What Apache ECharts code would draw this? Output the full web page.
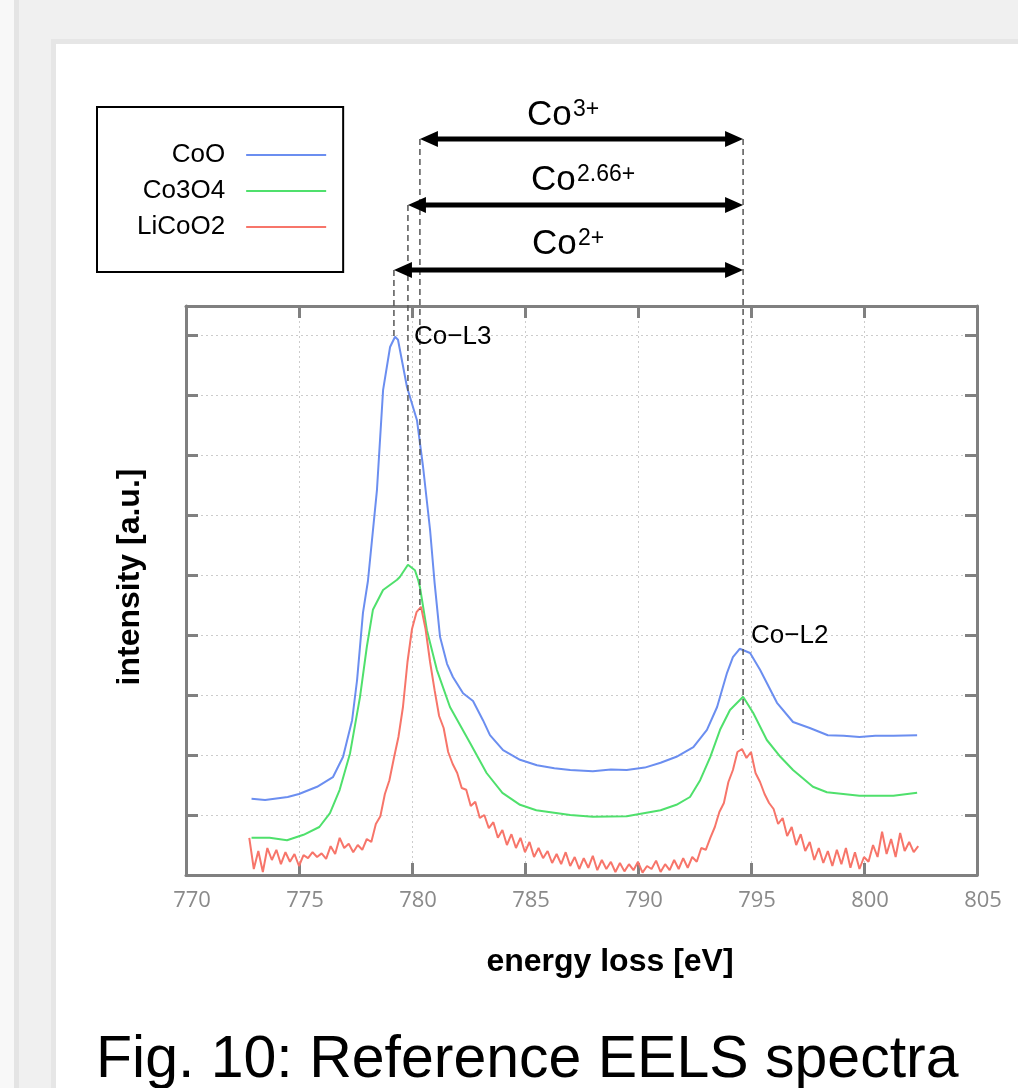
<!DOCTYPE html>
<html><head><meta charset="utf-8">
<script src="https://cdn.jsdelivr.net/npm/echarts@6/dist/echarts.min.js"></script>
<style>html,body{margin:0;padding:0;background:#f0f0f0;}#c{width:1018px;height:1088px;}</style>
</head><body><div id="c"></div>
<script>
// ---- data ----
const xTicks = [770, 775, 780, 785, 790, 795, 800, 805];
const seriesNames = ['CoO', 'Co3O4', 'LiCoO2'];

const coO_E = [772.9,773.5,774.5,775.0,775.8,776.5,776.95,777.35,777.57,777.83,778.05,778.45,778.72,779.03,779.25,779.38,779.78,780.22,780.49,780.8,781.0,781.24,781.55,781.81,782.26,782.7,783.14,783.45,784.03,784.78,785.53,786.3,787.0,788.0,788.8,789.5,790.3,791.0,791.7,792.45,793.05,793.5,793.94,794.2,794.5,794.96,795.4,796.15,796.86,797.6,798.4,799.1,799.8,800.5,801.3,802.35];
const coO_I = [1.27,1.25,1.30,1.35,1.47,1.63,1.97,2.58,3.25,4.37,4.90,6.42,8.08,8.80,8.97,8.92,8.13,7.58,6.80,5.75,4.87,3.97,3.52,3.30,3.03,2.90,2.58,2.33,2.08,1.92,1.83,1.78,1.75,1.73,1.76,1.75,1.79,1.87,1.97,2.13,2.42,2.80,3.37,3.63,3.77,3.70,3.42,2.87,2.55,2.45,2.33,2.32,2.30,2.32,2.32,2.33];

const co3o4_E = [772.9,773.7,774.47,775.2,775.9,776.37,776.8,777.26,777.7,778.0,778.27,778.72,779.34,779.47,779.82,780.13,780.27,780.35,780.66,781.1,781.68,782.57,783.3,784.0,784.78,785.5,787.0,788.0,789.5,791.0,791.7,792.3,792.75,793.2,793.63,794.07,794.65,795.1,795.7,796.3,796.86,797.74,798.36,799.8,801.3,802.35];
const co3o4_I = [0.62,0.62,0.58,0.67,0.80,1.03,1.42,2.03,2.97,3.80,4.42,4.75,4.92,4.97,5.17,5.08,4.92,4.80,4.08,3.42,2.80,2.20,1.70,1.37,1.17,1.08,1.00,0.97,0.98,1.08,1.17,1.30,1.58,1.97,2.42,2.75,2.97,2.70,2.25,1.97,1.75,1.47,1.38,1.32,1.32,1.37];

const licoo2_E = [772.8,773.0,773.2,773.4,773.6,773.8,774.0,774.2,774.4,774.6,
774.8,775.0,775.2,775.4,775.6,775.8,776.0,776.2,776.4,776.6,
776.8,777.0,777.2,777.4,777.6,777.8,778.0,778.2,778.4,778.6,
778.8,779.0,779.2,779.4,779.6,779.8,780.0,780.2,780.4,780.6,
780.8,781.0,781.2,781.4,781.6,781.8,782.0,782.2,782.4,782.6,
782.8,783.0,783.2,783.4,783.6,783.8,784.0,784.2,784.4,784.6,
784.8,785.0,785.2,785.4,785.6,785.8,786.0,786.2,786.4,786.6,
786.8,787.0,787.2,787.4,787.6,787.8,788.0,788.2,788.4,788.6,
788.8,789.0,789.2,789.4,789.6,789.8,790.0,790.2,790.4,790.6,
790.8,791.0,791.2,791.4,791.6,791.8,792.0,792.2,792.4,792.6,
792.8,793.0,793.2,793.4,793.6,793.8,794.0,794.2,794.4,794.6,
794.8,795.0,795.2,795.4,795.6,795.8,796.0,796.2,796.4,796.6,
796.8,797.0,797.2,797.4,797.6,797.8,798.0,798.2,798.4,798.6,
798.8,799.0,799.2,799.4,799.6,799.8,800.0,800.2,800.4,800.6,
800.8,801.0,801.2,801.4,801.6,801.8,802.0,802.2,802.4];
const licoo2_I = [0.62,0.10,0.40,0.05,0.45,0.25,0.42,0.18,0.38,0.22,
0.35,0.15,0.33,0.28,0.38,0.30,0.36,0.27,0.48,0.35,
0.62,0.45,0.52,0.38,0.50,0.42,0.60,0.55,0.85,0.98,
1.35,1.58,1.95,2.30,2.80,3.55,4.10,4.38,4.47,4.10,
3.55,3.08,2.65,2.45,2.05,1.85,1.70,1.45,1.42,1.15,
1.22,0.95,1.00,0.78,0.88,0.62,0.75,0.50,0.68,0.45,
0.62,0.38,0.55,0.30,0.45,0.28,0.40,0.20,0.35,0.18,
0.38,0.15,0.30,0.10,0.28,0.12,0.32,0.08,0.25,0.10,
0.22,0.05,0.20,0.06,0.18,0.08,0.22,0.04,0.15,0.10,
0.24,0.05,0.18,0.08,0.25,0.10,0.28,0.12,0.30,0.22,
0.45,0.42,0.62,0.80,1.05,1.20,1.55,1.75,2.05,2.10,
1.95,2.05,1.70,1.55,1.35,1.20,1.10,0.85,0.95,0.65,
0.80,0.50,0.68,0.40,0.55,0.25,0.45,0.20,0.40,0.15,
0.42,0.18,0.45,0.12,0.38,0.10,0.30,0.22,0.50,0.30,
0.72,0.35,0.60,0.30,0.70,0.40,0.55,0.38,0.48];

// edge annotations: L3 onset positions (Co3+, Co2.66+, Co2+), L2 position, and peak heights reached by dashed guides
const edgeLabels = ['3+', '2.66+', '2+'];
const l3Energy = [780.35, 779.82, 779.2];
const l3PeakI = [4.42, 5.17, 8.97];
const l2Energy = 794.65;
const l2GuideI = 2.25;
const yMax = 9.4833;

// ---- chart ----
const colors = ['#6b8ef0', '#4fe06c', '#f7756a'];
const pairs = (xs, ys) => xs.map((x, i) => [x, ys[i]]);
const FONT = '"Liberation Sans", Arial, sans-serif';

const gridLine = {color: '#808080', width: 3};
const baseX = {type: 'value', min: xTicks[0], max: xTicks[xTicks.length - 1], interval: xTicks[1] - xTicks[0]};
const baseY = {type: 'value', min: 0, max: yMax, interval: 1};

const option = {
  animation: false,
  backgroundColor: '#f0f0f0',
  grid: {left: 186, right: 41, top: 306, bottom: 213, containLabel: false},
  xAxis: [
    Object.assign({}, baseX, {
      position: 'bottom',
      axisLine: {onZero: false, lineStyle: gridLine},
      axisTick: {inside: true, length: 12, lineStyle: gridLine},
      axisLabel: {fontFamily: '"Open Sans", sans-serif', fontSize: 22, color: '#8a8a8a', margin: 15, padding: [0, 0, 0, 12]},
      splitLine: {show: true, lineStyle: {color: '#cccccc', width: 1, type: [2, 3]}}
    }),
    Object.assign({}, baseX, {
      position: 'top',
      axisLine: {onZero: false, lineStyle: gridLine},
      axisTick: {inside: true, length: 12, lineStyle: gridLine},
      axisLabel: {show: false},
      splitLine: {show: false}
    })
  ],
  yAxis: [
    Object.assign({}, baseY, {
      position: 'left',
      axisLine: {onZero: false, lineStyle: gridLine},
      axisTick: {inside: true, length: 12, lineStyle: gridLine},
      axisLabel: {show: false},
      splitLine: {show: true, lineStyle: {color: '#cccccc', width: 1, type: [2, 3]}}
    }),
    Object.assign({}, baseY, {
      position: 'right',
      axisLine: {onZero: false, lineStyle: gridLine},
      axisTick: {inside: true, length: 12, lineStyle: gridLine},
      axisLabel: {show: false},
      splitLine: {show: false}
    })
  ],
  legend: {
    data: seriesNames,
    orient: 'vertical', left: 97, top: 107, align: 'right',
    icon: 'rect', itemWidth: 80, itemHeight: 2, itemGap: 10,
    padding: [35, 17, 32, 40],
    borderColor: '#000', borderWidth: 2, backgroundColor: '#fff',
    selectedMode: false,
    textStyle: {fontFamily: FONT, fontSize: 26, color: '#000', lineHeight: 26, padding: [0, 16, 0, 0]}
  },
  series: [
    {name: seriesNames[0], type: 'line', data: pairs(coO_E, coO_I), color: colors[0]},
    {name: seriesNames[1], type: 'line', data: pairs(co3o4_E, co3o4_I), color: colors[1]},
    {name: seriesNames[2], type: 'line', data: pairs(licoo2_E, licoo2_I), color: colors[2]}
  ].map(s => Object.assign(s, {showSymbol: false, symbol: 'none', lineStyle: {width: 2, color: s.color}, z: 3, silent: true}))
};

const chart = echarts.init(document.getElementById('c'), null, {renderer: 'canvas'});
chart.setOption(option);

const px = (e, v) => chart.convertToPixel({xAxisIndex: 0, yAxisIndex: 0}, [e, v]);
const g = [];
// page framing
g.push({type: 'rect', z: -10, shape: {x: 0, y: 0, width: 14, height: 1088}, style: {fill: '#f8f8f8'}});
g.push({type: 'rect', z: -10, shape: {x: 14, y: 0, width: 5, height: 1088}, style: {fill: '#e4e4e4'}});
g.push({type: 'rect', z: -9, shape: {x: 53.5, y: 41.5, width: 1000, height: 1100}, style: {fill: '#ffffff', stroke: '#e6e6e6', lineWidth: 5}});

const txt = (text, x, y, size, opts) => Object.assign({
  type: 'text', z: 50, x: x, y: y,
  style: Object.assign({text: text, font: (opts && opts.bold ? 'bold ' : '') + size + 'px ' + FONT, fill: '#000',
    align: 'left', textAlign: 'left', verticalAlign: 'middle', textVerticalAlign: 'middle'}, (opts && opts.style) || {})
}, (opts && opts.el) || {});

// arrows + dashed guides
const arrowRows = [139, 205, 270];
const labelRows = [115, 180, 244];
const labelX = [527, 531, 532];
const rPx = px(l2Energy, 0)[0];
arrowRows.forEach((ay, i) => {
  const lx = px(l3Energy[i], 0)[0];
  const peakY = px(l3Energy[i], l3PeakI[i])[1];
  g.push({type: 'line', z: 40, shape: {x1: lx, y1: ay, x2: lx, y2: peakY}, style: {stroke: '#555', lineWidth: 1.5, lineDash: [6, 4]}});
  g.push({type: 'line', z: 45, shape: {x1: lx + 10, y1: ay, x2: rPx - 10, y2: ay}, style: {stroke: '#000', lineWidth: 5}});
  g.push({type: 'polygon', z: 46, shape: {points: [[lx, ay], [lx + 18, ay - 8], [lx + 18, ay + 8]]}, style: {fill: '#000'}});
  g.push({type: 'polygon', z: 46, shape: {points: [[rPx, ay], [rPx - 18, ay - 8], [rPx - 18, ay + 8]]}, style: {fill: '#000'}});
  g.push(txt('Co', labelX[i], labelRows[i], 35));
  g.push(txt(edgeLabels[i], labelX[i] + 46, labelRows[i] - 5, 23));
});
g.push({type: 'line', z: 40, shape: {x1: rPx, y1: arrowRows[0], x2: rPx, y2: px(l2Energy, l2GuideI)[1]}, style: {stroke: '#555', lineWidth: 1.5, lineDash: [6, 4]}});

// peak labels
g.push(txt('Co\u2212L3', 414, 337, 26));
g.push(txt('Co\u2212L2', 751, 636, 26));

// axis titles and caption
g.push(txt('energy loss [eV]', 610, 962, 32, {bold: true, style: {align: 'center', textAlign: 'center'}}));
g.push(txt('intensity [a.u.]', 130, 577, 32, {bold: true, style: {align: 'center', textAlign: 'center'}, el: {rotation: Math.PI / 2}}));
g.push(txt('Fig. 10: Reference EELS spectra', 96, 1061, 59));

chart.setOption({graphic: {elements: g}});
</script>
</body></html>
